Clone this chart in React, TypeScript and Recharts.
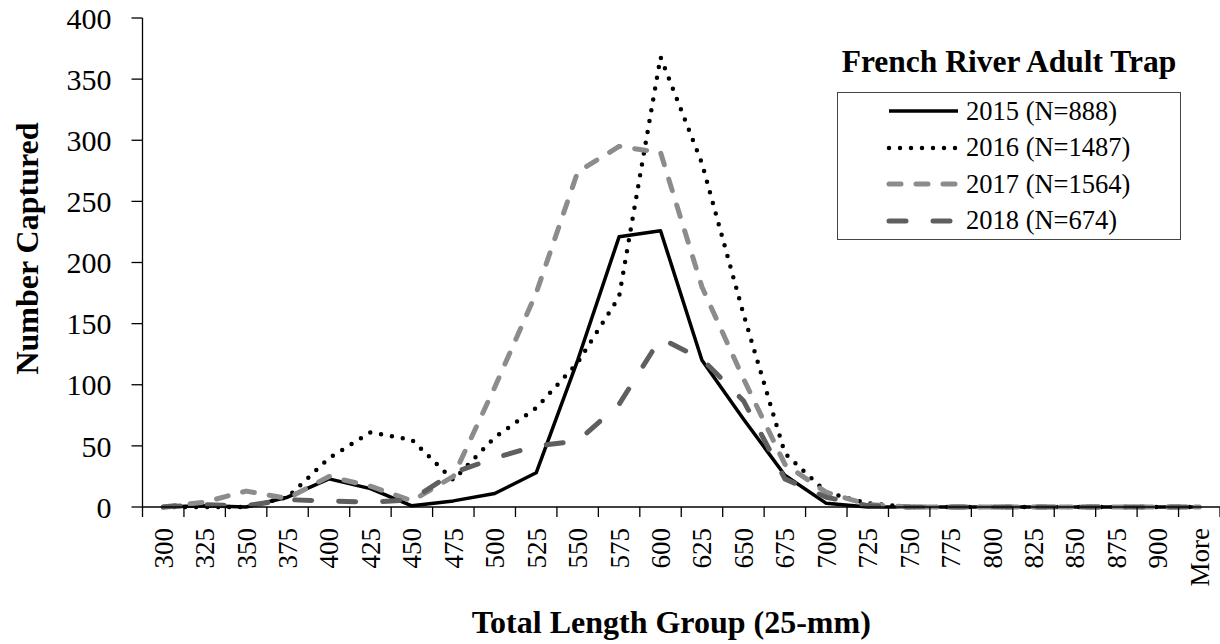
import React from 'react';
import { LineChart, Line, XAxis, YAxis, Legend, Label } from 'recharts';

const categories = ['300', '325', '350', '375', '400', '425', '450', '475', '500', '525', '550', '575', '600', '625', '650', '675', '700', '725', '750', '775', '800', '825', '850', '875', '900', 'More'];
const s2015 = [0, 1, 0, 8, 23, 15, 1, 5, 11, 28, 120, 221, 226, 120, 72, 26, 3, 0, 0, 0, 0, 0, 0, 0, 0, 0];
const s2016 = [0, 0, 0, 8, 40, 61, 55, 22, 57, 81, 118, 172, 368, 281, 158, 44, 12, 3, 0, 0, 0, 0, 0, 0, 0, 0];
const s2017 = [0, 4, 13, 7, 25, 17, 5, 25, 98, 175, 274, 295, 290, 180, 105, 35, 12, 2, 0, 0, 0, 0, 0, 0, 0, 0];
const s2018 = [0, 2, 1, 6, 5, 4, 6, 28, 40, 50, 54, 84, 138, 121, 87, 23, 8, 1, 0, 0, 0, 0, 0, 0, 0, 0];
const yTicks = [0, 50, 100, 150, 200, 250, 300, 350, 400];
const seriesLabels = ['2015 (N=888)', '2016 (N=1487)', '2017 (N=1564)', '2018 (N=674)'];
const legendTitle = 'French River Adult Trap';
const xTitle = 'Total Length Group (25-mm)';
const yTitle = 'Number Captured';

const data = categories.map((c, i) => ({
  cat: c,
  y2015: s2015[i],
  y2016: s2016[i],
  y2017: s2017[i],
  y2018: s2018[i],
}));

const FONT = '"Liberation Serif", "Times New Roman", serif';

const seriesStyles = [
  { key: 'y2015', stroke: '#000000', width: 3.5, dash: undefined as string | undefined, cap: 'butt' },
  { key: 'y2016', stroke: '#000000', width: 4.5, dash: '0 11', cap: 'round' },
  { key: 'y2017', stroke: '#8c8c8c', width: 5, dash: '12 15', cap: 'round' },
  { key: 'y2018', stroke: '#5f5f5f', width: 5, dash: '17 27', cap: 'round' },
];

const XTick = (props: any) => {
  const { x, y, payload, index } = props;
  const half = payload && typeof payload.offset === 'number' ? payload.offset : 0;
  const last = index === categories.length - 1;
  return (
    <g>
      <line x1={x - half} x2={x - half} y1={y} y2={y + 10} stroke="#000" strokeWidth={1.3} />
      {last && <line x1={x + half} x2={x + half} y1={y} y2={y + 10} stroke="#000" strokeWidth={1.3} />}
      <text
        transform={`translate(${x},${y + 21}) rotate(-90)`}
        textAnchor="end"
        dy="0.35em"
        fontSize={27}
        fontFamily={FONT}
        fill="#000"
      >
        {payload.value}
      </text>
    </g>
  );
};

const XTitle = (props: any) => {
  const vb = props.viewBox;
  return (
    <text
      x={vb.x + vb.width / 2 - 10}
      y={vb.y + vb.height - 11}
      textAnchor="middle"
      fontSize={32}
      fontWeight="bold"
      fontFamily={FONT}
      fill="#000"
    >
      {xTitle}
    </text>
  );
};

const YTitle = (props: any) => {
  const vb = props.viewBox;
  const cx = vb.x + 27;
  const cy = vb.y + vb.height / 2 - 14;
  return (
    <text
      transform={`translate(${cx},${cy}) rotate(-90)`}
      textAnchor="middle"
      dominantBaseline="central"
      fontSize={32}
      fontWeight="bold"
      fontFamily={FONT}
      fill="#000"
    >
      {yTitle}
    </text>
  );
};

const LegendContent = () => (
  <div style={{ fontFamily: FONT, width: 344, color: '#000' }}>
    <div style={{ fontWeight: 'bold', fontSize: 31.5, textAlign: 'center', lineHeight: '42px', height: 42, marginBottom: 9, whiteSpace: 'nowrap' }}>
      {legendTitle}
    </div>
    <div style={{ border: '1.5px solid #444', boxSizing: 'border-box', width: 344 }}>
      {seriesStyles.map((s, i) => (
        <div key={s.key} style={{ display: 'flex', alignItems: 'center', height: 36.5 }}>
          <svg width={75} height={20} style={{ marginLeft: 48, flex: 'none' }}>
            <line
              x1={3}
              x2={72}
              y1={10}
              y2={10}
              stroke={s.stroke}
              strokeWidth={s.width}
              strokeDasharray={s.dash}
              strokeLinecap={s.cap as any}
            />
          </svg>
          <span style={{ fontSize: 26.5, marginLeft: 5, whiteSpace: 'nowrap' }}>{seriesLabels[i]}</span>
        </div>
      ))}
    </div>
  </div>
);

export default function App() {
  return (
    <div style={{ position: 'absolute', left: 0, top: 0, width: 1220, height: 644, background: '#fff' }}>
      <LineChart
        width={1220}
        height={644}
        data={data}
        margin={{ top: 18, right: 0, bottom: 0, left: 0 }}
        style={{ fontFamily: FONT }}
      >
        <XAxis
          dataKey="cat"
          scale="band"
          interval={0}
          height={137}
          tickLine={false}
          tickSize={0}
          tickMargin={0}
          axisLine={{ stroke: '#000', strokeWidth: 1.3 }}
          tick={<XTick />}
        >
          <Label content={<XTitle />} />
        </XAxis>
        <YAxis
          domain={[0, 400]}
          ticks={yTicks}
          width={142.5}
          tickSize={11}
          tickMargin={20}
          axisLine={{ stroke: '#000', strokeWidth: 1.3 }}
          tickLine={{ stroke: '#000', strokeWidth: 1.3 }}
          tick={{ fill: '#000', fontSize: 30, fontFamily: FONT }}
        >
          <Label content={<YTitle />} />
        </YAxis>
        <Legend
          layout="horizontal"
          verticalAlign="middle"
          align="center"
          content={<LegendContent />}
          wrapperStyle={{ position: 'absolute', left: 837, top: 41, width: 344, height: 'auto' }}
        />
        {seriesStyles.map((s, i) => (
          <Line
            key={s.key}
            type="linear"
            dataKey={s.key}
            name={seriesLabels[i]}
            stroke={s.stroke}
            strokeWidth={s.width}
            strokeDasharray={s.dash}
            strokeLinecap={s.cap as any}
            strokeLinejoin="round"
            dot={false}
            activeDot={false}
            isAnimationActive={false}
          />
        ))}
      </LineChart>
    </div>
  );
}
